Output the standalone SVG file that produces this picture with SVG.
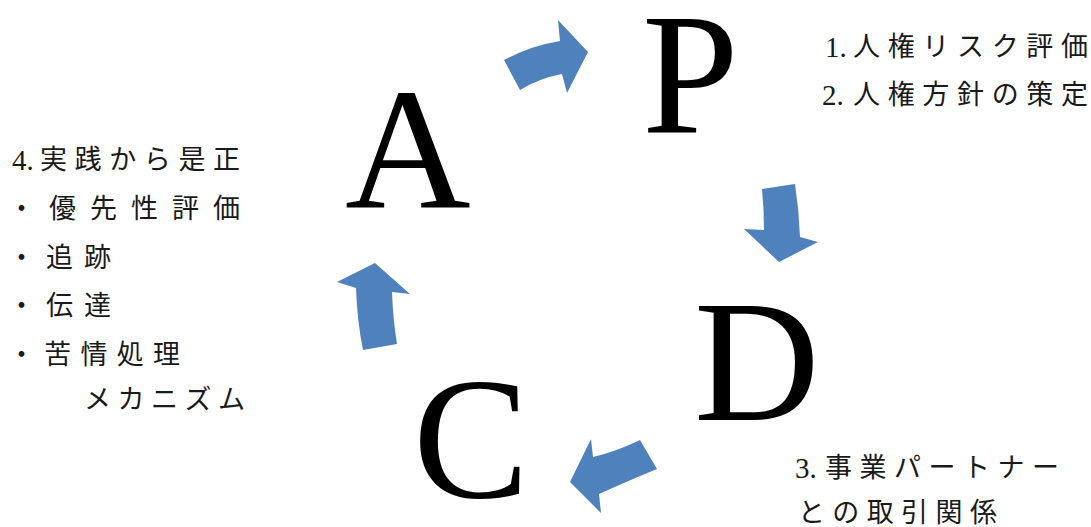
<svg xmlns="http://www.w3.org/2000/svg" width="1091" height="527" viewBox="0 0 1091 527">
<style>
.big{font-family:"Liberation Serif","Times New Roman",serif;font-size:174px;fill:#000}
.t{font-family:"Noto Sans CJK JP",sans-serif;font-size:27px;fill:#1a1a1a}
.n{font-family:"Liberation Serif","Times New Roman",serif;font-size:29px;fill:#1a1a1a}
.arr{fill:#4F81BD}
</style>
<rect width="1091" height="527" fill="#fff"/>
<g id="connectors">
<path class="arr" d="M504,60 Q530,46 560,41 L558,20 L588,52 L567,93 L562,74 Q540,78 520,90 Z"/>
<path class="arr" d="M762,189 L795,184 Q799,210 800,237 L818,242 L779,262 L744,229 L764,230 Q764,210 762,189 Z"/>
<path class="arr" d="M640,440 L657,469 Q630,480 599,494 L601,513 L570,482 L591,439 L593,457 Q615,452 640,440 Z"/>
<path class="arr" d="M363,350 Q357,320 356,288 L337,282 L375,263 L410,294 L392,292 Q393,320 397,344 Z"/>
</g>
<g id="node-P"><text class="big" x="642" y="133">P</text></g>
<g id="node-D"><text class="big" x="694" y="420">D</text></g>
<g id="node-C"><text class="big" x="413" y="497">C</text></g>
<g id="node-A"><text class="big" x="345" y="208">A</text></g>
<g id="text-P">
<text class="n" x="825" y="57">1.</text>
<text class="t" x="853" y="56" textLength="235" lengthAdjust="spacing">人権リスク評価</text>
<text class="n" x="822" y="105">2.</text>
<text class="t" x="853" y="104" textLength="235" lengthAdjust="spacing">人権方針の策定</text>
</g>
<g id="text-D">
<text class="n" x="795" y="478">3.</text>
<text class="t" x="825" y="477" textLength="234" lengthAdjust="spacing">事業パートナー</text>
<text class="t" x="798" y="522" textLength="199" lengthAdjust="spacing">との取引関係</text>
</g>
<g id="text-A">
<text class="n" x="12" y="170">4.</text>
<text class="t" x="40" y="169" textLength="200" lengthAdjust="spacing">実践から是正</text>
<text class="t" x="8" y="218" textLength="232" lengthAdjust="spacing">・優先性評価</text>
<text class="t" x="8" y="267" textLength="103" lengthAdjust="spacing">・追跡</text>
<text class="t" x="8" y="315" textLength="103" lengthAdjust="spacing">・伝達</text>
<text class="t" x="8" y="364" textLength="172" lengthAdjust="spacing">・苦情処理</text>
<text class="t" x="84" y="409" textLength="161" lengthAdjust="spacing">メカニズム</text>
</g>
</svg>
